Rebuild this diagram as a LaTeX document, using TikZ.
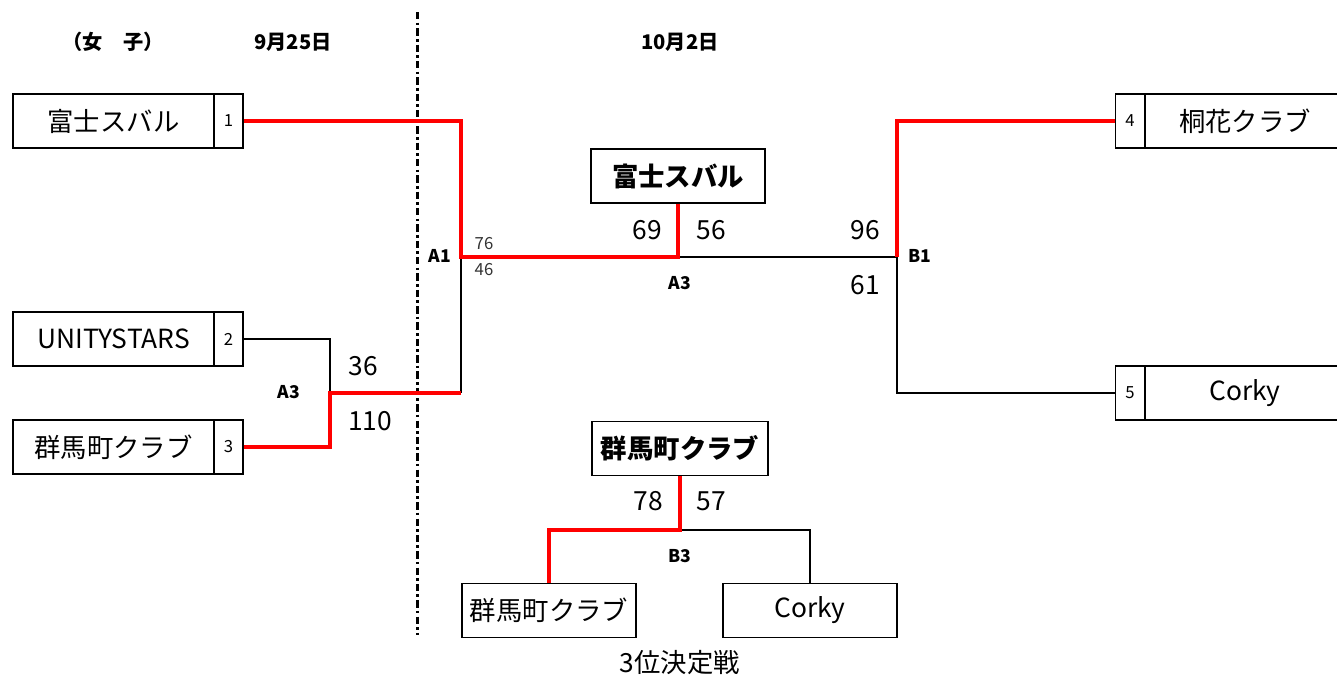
\documentclass[tikz,border=0pt]{standalone}
\usepackage{fontspec}
\setmainfont{Noto Sans CJK JP}
\begin{document}
\begin{tikzpicture}[x=0.02cm,y=-0.02cm,
  box/.style={draw, line width=1.1pt, minimum height=1.08cm, inner sep=0pt, font=\fontsize{15}{17}\selectfont},
  namebox/.style={box, minimum width=4.02cm},
  numbox/.style={box, minimum width=0.58cm, font=\fontsize{9.5}{11}\selectfont},
  winbox/.style={box, minimum width=3.48cm, font=\fontsize{15}{17}\selectfont\bfseries},
  win/.style={draw=red, line width=2.4pt},
  lose/.style={draw=black, line width=1pt},
  score/.style={font=\fontsize{15}{17}\selectfont, inner sep=0pt},
  small/.style={font=\fontsize{9.5}{11}\selectfont, inner sep=0pt, text=black!80},
  lab/.style={font=\fontsize{10}{12}\selectfont\bfseries, inner sep=0pt},
  head/.style={font=\fontsize{11.5}{13}\selectfont\bfseries, inner sep=0pt}
]
\useasboundingbox (0,0) rectangle (1337,677);
% boxes left
\node[namebox] (t1) at (113.5,121) {富士スバル};
\node[numbox]  (n1) at (228.5,121) {1};
\node[namebox] (t2) at (113.5,339) {UNITYSTARS};
\node[numbox]  (n2) at (228.5,339) {2};
\node[namebox] (t3) at (113.5,447) {群馬町クラブ};
\node[numbox]  (n3) at (228.5,447) {3};
% boxes right
\node[numbox]  (n4) at (1130,121) {4};
\node[namebox, minimum width=4cm] (t4) at (1245,121) {桐花クラブ};
\node[numbox]  (n5) at (1130,393) {5};
\node[namebox, minimum width=4cm] (t5) at (1245,393) {Corky};
% winners
\node[winbox] (w1) at (678,176) {富士スバル};
\node[winbox, minimum width=3.52cm] (w3) at (680,448.5) {群馬町クラブ};
\node[box, minimum width=3.48cm] (b1) at (549,610.5) {群馬町クラブ};
\node[box, minimum width=3.48cm] (b2) at (810,610.5) {Corky};
% junctions
\coordinate (A1) at (461,257);
\coordinate (A3L) at (330,393);
\coordinate (B1) at (897,257);
\coordinate (B3) at (680,530);
\coordinate (D1) at (417,12);
\coordinate (D2) at (417,635);
% separator
\draw[line width=1.7pt, dash pattern=on 4.2pt off 1.8pt on 1.5pt off 1.8pt] (D1) -- (D2);
% losing paths
\draw[lose] (n2.east) -| (A3L);
\draw[lose] (A3L -| A1) -- (A1);
\draw[lose] (w1.south |- A1) -- (B1);
\draw[lose] (B1) |- (n5.west);
\draw[lose] (B3) -| (b2.north);
% winning paths
\draw[win] (n1.east) -| (A1) -- (w1.south |- A1) -- (w1.south);
\draw[win] (n3.east) -| (A3L) -- (A3L -| A1);
\draw[win] (B1) |- (n4.west);
\draw[win] (w3.south) -- (B3) -| (b1.north);
% headings
\node[head] (h0) at (113,42) {（女\hspace{1em}子）};
\node[head] (h1) at (293,42) {9月25日};
\node[head] (h2) at (680,42) {10月2日};
% labels
\node[lab] (lA1) at (440,256) {A1};
\node[lab] (lA3a) at (680,283) {A3};
\node[lab] (lB1) at (920,256) {B1};
\node[lab] (lA3b) at (289,392) {A3};
\node[lab] (lB3) at (680,556) {B3};
% scores
\node[small] (s76) at (484,244) {76};
\node[small] (s46) at (484,270) {46};
\node[score] (s69) at (647,230) {69};
\node[score] (s56) at (711,230) {56};
\node[score] (s96) at (865,230) {96};
\node[score] (s61) at (865,285) {61};
\node[score] (s36) at (363,366) {36};
\node[score] (s110) at (370,421) {110};
\node[score] (s78) at (648,501) {78};
\node[score] (s57) at (711,501) {57};
\node[score] (cap) at (680,663) {3位決定戦};
\end{tikzpicture}
\end{document}
